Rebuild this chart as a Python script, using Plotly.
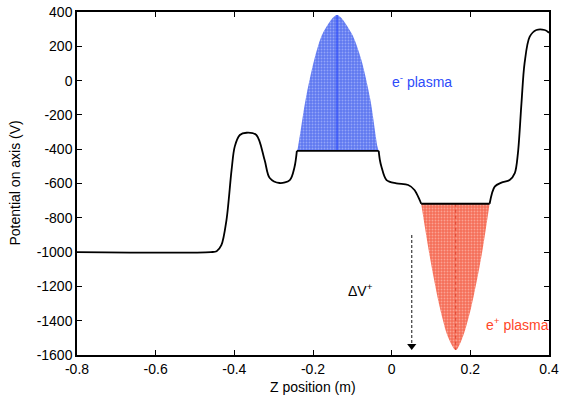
import plotly.graph_objects as go

# Potential on axis (z in m, V in volts)
z_pos = [-0.80, -0.46, -0.445, -0.433, -0.42, -0.407, -0.399, -0.386, -0.369, -0.344,
         -0.323, -0.31, -0.285, -0.259, -0.247, -0.241,
         -0.033, -0.030, -0.026, -0.013, 0.012, 0.042, 0.058, 0.071, 0.075,
         0.249, 0.262, 0.279, 0.300, 0.313, 0.321, 0.330, 0.338, 0.351, 0.368, 0.389, 0.40]
potential = [-1000, -1000, -995, -960, -813, -521, -385, -317, -304, -317,
             -463, -568, -597, -580, -504, -410,
             -410, -463, -502, -580, -599, -609, -638, -696, -718,
             -718, -618, -595, -580, -540, -423, -131, 103, 256, 295, 295, 279]
# segment break indices (plateaus drawn straight)
segments = [(0, 15, "spline"), (15, 16, "linear"), (16, 24, "spline"), (24, 25, "linear"), (25, 36, "spline")]

# electron plasma envelope
eminus_z = [-0.241, -0.238, -0.219, -0.197, -0.175, -0.139, -0.102, -0.077, -0.054, -0.036, -0.033]
eminus_v = [-410, -385, -113, 120, 276, 382, 276, 120, -113, -385, -410]
eminus_center = -0.139

# positron plasma envelope
eplus_z = [0.075, 0.097, 0.122, 0.143, 0.163, 0.181, 0.2025, 0.228, 0.249]
eplus_v = [-718, -1027, -1318, -1493, -1571, -1493, -1318, -1027, -718]
eplus_center = 0.163

# Delta V arrow
arrow_z = 0.051
arrow_v = [-900, -1548]

x_ticks = [-0.8, -0.6, -0.4, -0.2, 0, 0.2, 0.4]
x_ticktext = ["-0.8", "-0.6", "-0.4", "-0.2", "0", "0.2", "0.4"]
y_ticks = [-1600, -1400, -1200, -1000, -800, -600, -400, -200, 0, 200, 400]
y_ticktext = ["-1600", "-1400", "-1200", "-1000", "-800", "-600", "-400", "-200", "0", "200", "400"]

BLUE = "rgb(45,75,250)"
RED = "rgb(255,70,40)"
font = "Liberation Sans, Arial, Helvetica, sans-serif"
FS = 14

fig = go.Figure()

fig.add_trace(go.Scatter(
    x=eminus_z, y=eminus_v, mode="lines", line=dict(width=0, shape="spline", smoothing=0.8),
    fill="toself", fillcolor="rgb(110,135,242)",
    fillpattern=dict(shape=".", bgcolor="rgb(95,120,240)", fgcolor="rgb(200,210,255)", size=3, solidity=0.3),
    hoverinfo="skip", showlegend=False))
fig.add_trace(go.Scatter(
    x=[eminus_center, eminus_center], y=[eminus_v[0], max(eminus_v)], mode="lines",
    line=dict(color=BLUE, width=1.2), showlegend=False, hoverinfo="skip"))

fig.add_trace(go.Scatter(
    x=eplus_z, y=eplus_v, mode="lines", line=dict(width=0, shape="spline", smoothing=0.8),
    fill="toself", fillcolor="rgb(246,130,110)",
    fillpattern=dict(shape=".", bgcolor="rgb(245,110,88)", fgcolor="rgb(255,215,205)", size=3, solidity=0.3),
    hoverinfo="skip", showlegend=False))
fig.add_trace(go.Scatter(
    x=[eplus_center, eplus_center], y=[eplus_v[0], min(eplus_v)], mode="lines",
    line=dict(color="rgb(220,60,40)", width=1, dash="dot"), showlegend=False, hoverinfo="skip"))

for a, b, shp in segments:
    fig.add_trace(go.Scatter(
        x=z_pos[a:b + 1], y=potential[a:b + 1], mode="lines",
        line=dict(color="black", width=1.8, shape=shp, smoothing=0.9),
        showlegend=False, hoverinfo="skip"))

fig.add_trace(go.Scatter(
    x=[arrow_z, arrow_z], y=arrow_v, mode="lines",
    line=dict(color="rgb(60,60,60)", width=1.2, dash="3px,2px"), showlegend=False, hoverinfo="skip"))
fig.add_trace(go.Scatter(
    x=[arrow_z], y=[arrow_v[1]], mode="markers",
    marker=dict(symbol="triangle-down", size=8, color="black"), showlegend=False, hoverinfo="skip"))

fig.add_annotation(x=0.076, y=-2, text="e<sup>-</sup> plasma", showarrow=False,
                   font=dict(color=BLUE, size=FS, family=font))
fig.add_annotation(x=0.319, y=-1421, text="e<sup>+</sup> plasma", showarrow=False,
                   font=dict(color=RED, size=FS, family=font))
fig.add_annotation(x=-0.079, y=-1221, text="ΔV<sup>+</sup>", showarrow=False,
                   font=dict(color="black", size=FS, family=font))

# axis titles
fig.add_annotation(xref="paper", yref="paper", x=0.5, y=0, yshift=-32, yanchor="middle",
                   text="Z position (m)", showarrow=False, font=dict(size=FS, family=font, color="black"))
fig.add_annotation(xref="paper", yref="paper", x=0, y=0.5, xshift=-63, xanchor="center",
                   text="Potential on axis (V)", textangle=-90, showarrow=False,
                   font=dict(size=FS, family=font, color="black"))

axis_common = dict(showgrid=False, zeroline=False, showline=True, linecolor="black", linewidth=1.5,
                   mirror="allticks", ticks="inside", ticklen=5, tickwidth=1, tickcolor="black",
                   automargin=False, tickfont=dict(size=FS, color="black", family=font))

fig.update_xaxes(range=[-0.8, 0.4], tickvals=x_ticks, ticktext=x_ticktext, **axis_common)
fig.update_yaxes(range=[-1600, 400], tickvals=y_ticks, ticktext=y_ticktext, **axis_common)

fig.update_layout(width=561, height=396, margin=dict(l=77, r=12, t=12, b=41),
                  plot_bgcolor="white", paper_bgcolor="white", font=dict(family=font))

fig.write_html("out.html")
